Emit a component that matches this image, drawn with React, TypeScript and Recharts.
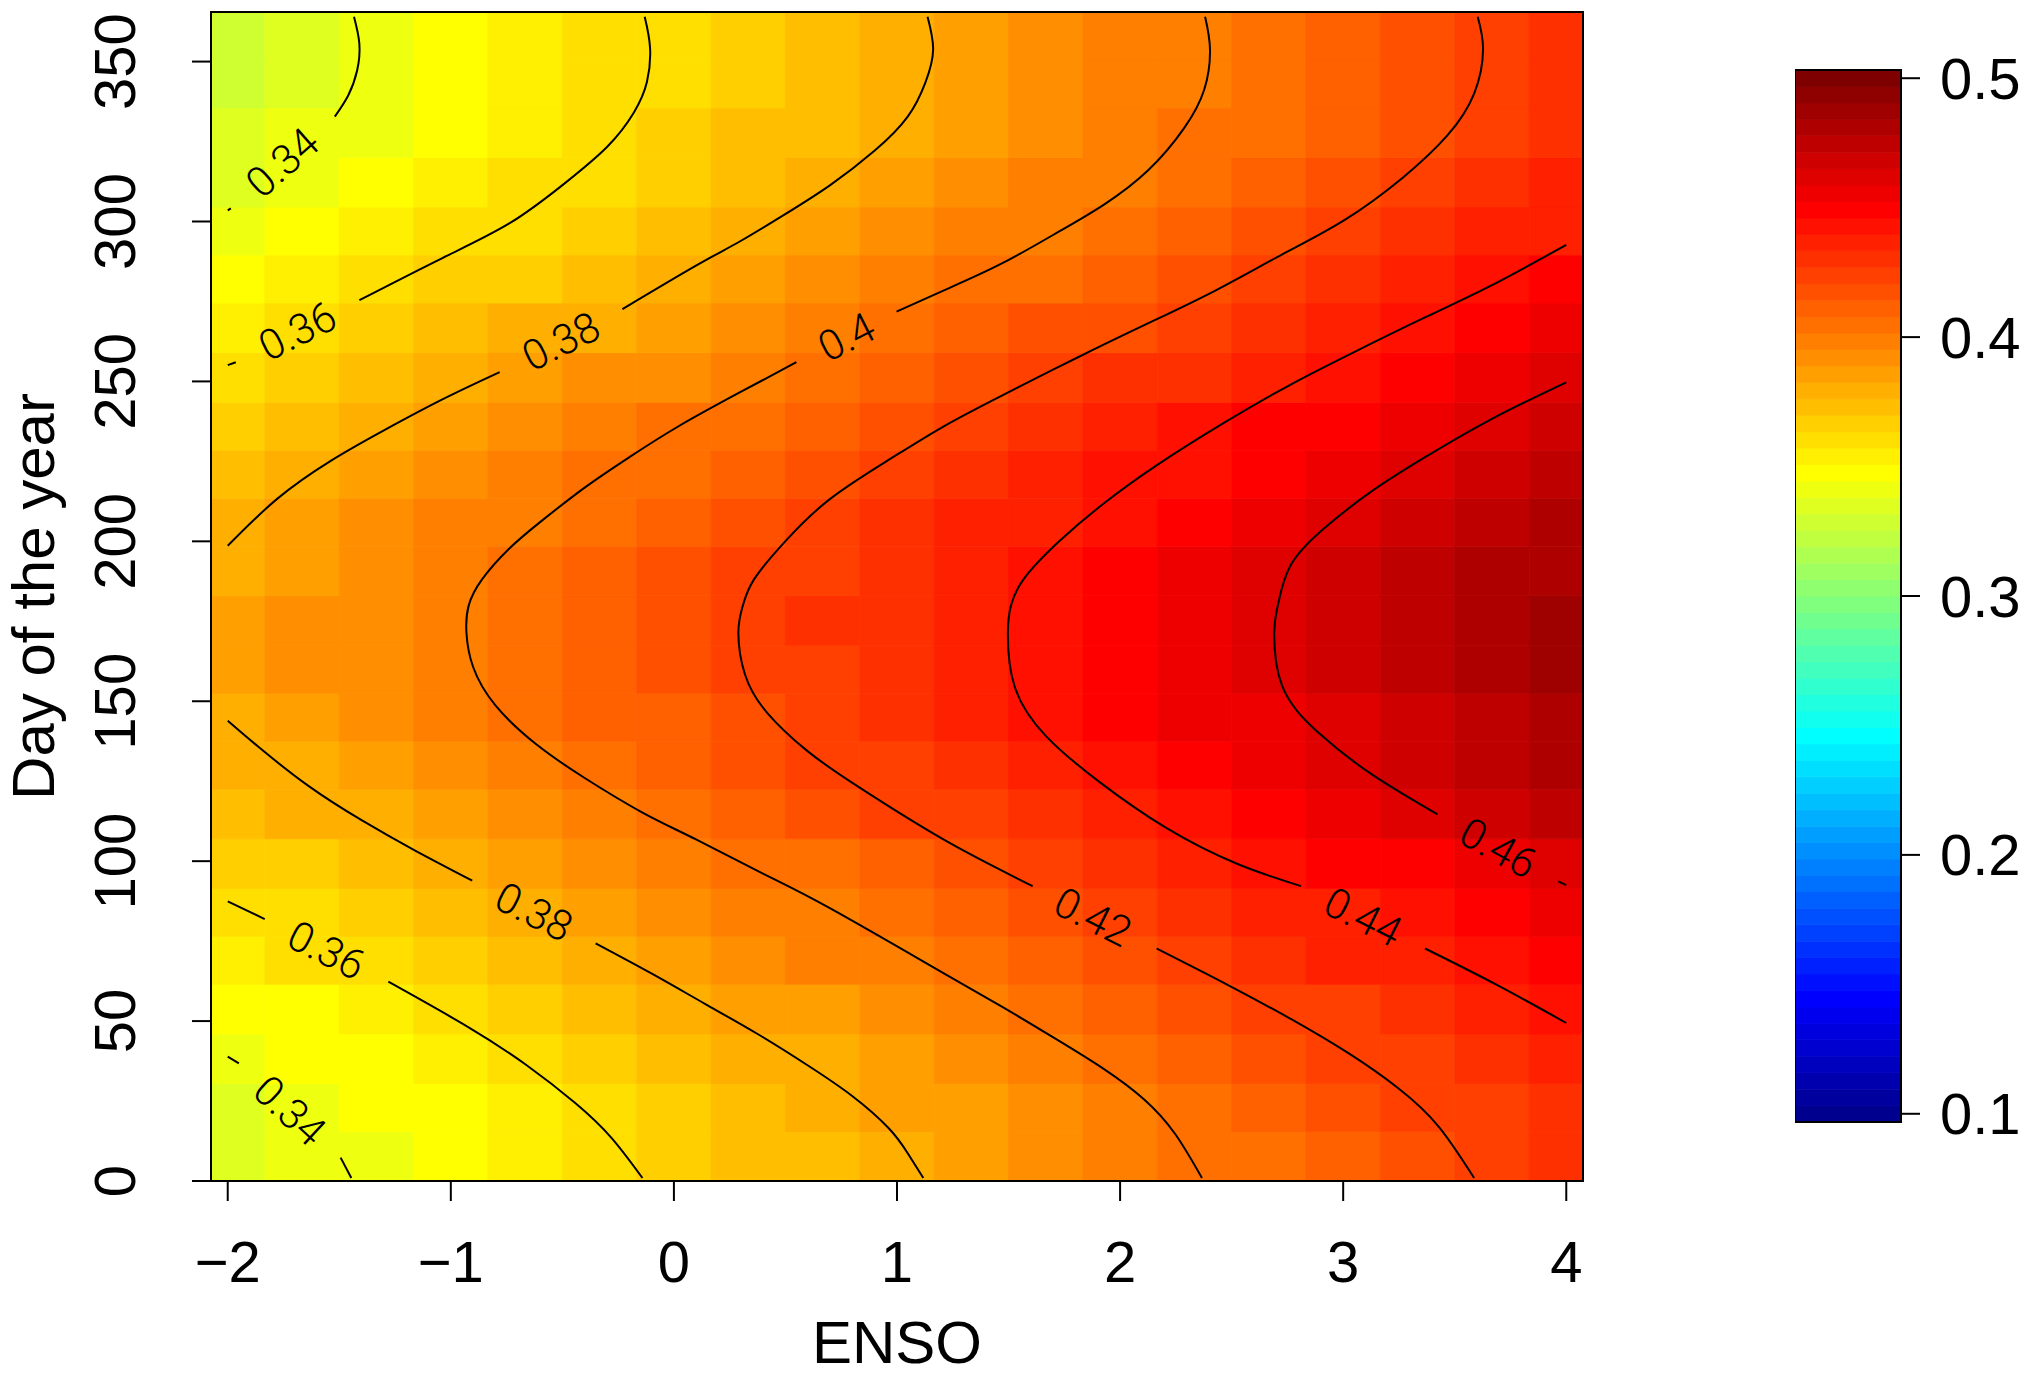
import { ComposedChart, XAxis, YAxis, Scatter, ReferenceArea, Label } from "recharts";

// column centres (ENSO) and row centres (day of the year) of the risk surface
const ensoCentres = [
  -2, -1.667, -1.333, -1, -0.667, -0.333, 0, 0.333, 0.667, 1, 1.333, 1.667, 2,
  2.333, 2.667, 3, 3.333, 3.667, 4,
];
const dayCentres = [
  8, 23, 38, 54, 69, 84, 99, 115, 130, 145, 160, 175, 191, 206, 221, 236, 251,
  267, 282, 297, 312, 328, 343, 358,
];

// one row per day centre, one value per ENSO centre
const riskRows = [
  [0.333, 0.338, 0.343, 0.348, 0.353, 0.358, 0.363, 0.369, 0.374, 0.379, 0.384, 0.39, 0.395, 0.4, 0.406, 0.411, 0.417, 0.422, 0.428],
  [0.335, 0.34, 0.345, 0.35, 0.356, 0.361, 0.366, 0.371, 0.377, 0.382, 0.387, 0.392, 0.398, 0.403, 0.409, 0.414, 0.419, 0.425, 0.43],
  [0.339, 0.345, 0.35, 0.355, 0.36, 0.365, 0.37, 0.376, 0.381, 0.386, 0.392, 0.397, 0.402, 0.408, 0.413, 0.419, 0.424, 0.43, 0.435],
  [0.345, 0.35, 0.356, 0.361, 0.366, 0.371, 0.377, 0.382, 0.387, 0.392, 0.398, 0.403, 0.409, 0.414, 0.42, 0.425, 0.431, 0.436, 0.442],
  [0.352, 0.357, 0.362, 0.367, 0.372, 0.378, 0.383, 0.388, 0.394, 0.399, 0.404, 0.41, 0.415, 0.421, 0.426, 0.432, 0.437, 0.443, 0.448],
  [0.357, 0.362, 0.367, 0.372, 0.378, 0.383, 0.388, 0.394, 0.399, 0.404, 0.41, 0.415, 0.421, 0.426, 0.432, 0.437, 0.443, 0.448, 0.454],
  [0.363, 0.368, 0.374, 0.379, 0.384, 0.39, 0.395, 0.4, 0.406, 0.411, 0.417, 0.422, 0.428, 0.433, 0.439, 0.444, 0.45, 0.455, 0.461],
  [0.37, 0.376, 0.381, 0.386, 0.392, 0.397, 0.402, 0.408, 0.413, 0.419, 0.424, 0.429, 0.435, 0.441, 0.446, 0.452, 0.457, 0.463, 0.469],
  [0.376, 0.381, 0.386, 0.392, 0.397, 0.402, 0.408, 0.413, 0.419, 0.424, 0.43, 0.435, 0.441, 0.446, 0.452, 0.458, 0.463, 0.469, 0.475],
  [0.38, 0.385, 0.391, 0.396, 0.401, 0.407, 0.412, 0.418, 0.423, 0.428, 0.434, 0.44, 0.445, 0.451, 0.456, 0.462, 0.468, 0.473, 0.479],
  [0.382, 0.388, 0.393, 0.398, 0.404, 0.409, 0.415, 0.42, 0.425, 0.431, 0.437, 0.442, 0.448, 0.453, 0.459, 0.465, 0.47, 0.476, 0.482],
  [0.383, 0.388, 0.393, 0.399, 0.404, 0.41, 0.415, 0.42, 0.426, 0.431, 0.437, 0.443, 0.448, 0.454, 0.459, 0.465, 0.471, 0.476, 0.482],
  [0.381, 0.386, 0.392, 0.397, 0.403, 0.408, 0.413, 0.419, 0.424, 0.43, 0.435, 0.441, 0.446, 0.452, 0.458, 0.463, 0.469, 0.475, 0.48],
  [0.378, 0.383, 0.388, 0.394, 0.399, 0.404, 0.41, 0.415, 0.421, 0.426, 0.432, 0.437, 0.443, 0.448, 0.454, 0.46, 0.465, 0.471, 0.477],
  [0.373, 0.378, 0.384, 0.389, 0.394, 0.4, 0.405, 0.41, 0.416, 0.421, 0.427, 0.432, 0.438, 0.443, 0.449, 0.455, 0.46, 0.466, 0.472],
  [0.368, 0.373, 0.378, 0.384, 0.389, 0.394, 0.4, 0.405, 0.411, 0.416, 0.421, 0.427, 0.432, 0.438, 0.444, 0.449, 0.455, 0.46, 0.466],
  [0.362, 0.367, 0.372, 0.378, 0.383, 0.388, 0.393, 0.399, 0.404, 0.41, 0.415, 0.42, 0.426, 0.431, 0.437, 0.443, 0.448, 0.454, 0.459],
  [0.355, 0.36, 0.365, 0.37, 0.376, 0.381, 0.386, 0.391, 0.397, 0.402, 0.408, 0.413, 0.418, 0.424, 0.429, 0.435, 0.44, 0.446, 0.452],
  [0.348, 0.353, 0.358, 0.363, 0.368, 0.374, 0.379, 0.384, 0.39, 0.395, 0.4, 0.406, 0.411, 0.416, 0.422, 0.427, 0.433, 0.438, 0.444],
  [0.341, 0.346, 0.352, 0.357, 0.362, 0.367, 0.372, 0.378, 0.383, 0.388, 0.394, 0.399, 0.404, 0.41, 0.415, 0.421, 0.426, 0.432, 0.437],
  [0.336, 0.342, 0.347, 0.352, 0.357, 0.362, 0.367, 0.373, 0.378, 0.383, 0.389, 0.394, 0.399, 0.405, 0.41, 0.415, 0.421, 0.426, 0.432],
  [0.333, 0.338, 0.343, 0.348, 0.353, 0.359, 0.364, 0.369, 0.374, 0.38, 0.385, 0.39, 0.396, 0.401, 0.406, 0.412, 0.417, 0.423, 0.428],
  [0.331, 0.336, 0.342, 0.347, 0.352, 0.357, 0.362, 0.367, 0.373, 0.378, 0.383, 0.389, 0.394, 0.399, 0.405, 0.41, 0.416, 0.421, 0.426],
  [0.331, 0.336, 0.341, 0.346, 0.352, 0.357, 0.362, 0.367, 0.372, 0.378, 0.383, 0.388, 0.394, 0.399, 0.404, 0.41, 0.415, 0.421, 0.426],
];

// contour lines as [ENSO, day] points, one list per piece between label gaps
const contour034 = [
  [[-1.434, 364], [-1.41, 355.6], [-1.42, 347.2], [-1.46, 339.4], [-1.52, 332.8]],
  [[-1.986, 304.1], [-2, 303.5]],
  [[-2, 38.9], [-1.95, 36.8]],
  [[-1.494, 7.3], [-1.446, 0.94]],
];
const contour036 = [
  [[-0.131, 364], [-0.107, 354.4], [-0.121, 343.6], [-0.18, 334], [-0.3, 323.3], [-0.501, 311.3], [-0.74, 299.3], [-1.04, 288.5], [-1.41, 275.4]],
  [[-1.964, 256], [-2, 255.1]],
  [[-2, 87.4], [-1.834, 81.9]],
  [[-1.28, 62.3], [-0.924, 48.2], [-0.66, 36.2], [-0.441, 24.3], [-0.28, 13.5], [-0.141, 0.94]],
];
const contour038 = [
  [[1.137, 364], [1.162, 353.8], [1.128, 343.6], [1.048, 332.8], [0.899, 322.1], [0.699, 311.3], [0.499, 302.3], [0.299, 293.9], [0.099, 286.2], [-0.231, 272.6]],
  [[-0.781, 252.9], [-1.04, 244.3], [-1.3, 234.7], [-1.54, 225.1], [-1.78, 213.2], [-2, 198.6]],
  [[-2, 143.9], [-1.86, 135.6], [-1.64, 123.6], [-1.4, 112.8], [-1.16, 103.3], [-0.904, 93.9]],
  [[-0.351, 74.3], [-0.101, 64.9], [0.139, 55.4], [0.379, 45.8], [0.599, 36.2], [0.799, 26.6], [0.963, 16.5], [1.048, 8.7], [1.118, 0.94]],
];
const contour040 = [
  [[2.381, 364], [2.403, 353.8], [2.377, 341.2], [2.287, 329.2], [2.127, 316.1], [1.928, 305.3], [1.727, 296.9], [1.468, 286.8], [1.208, 278.4], [0.998, 271.8]],
  [[0.549, 256], [0.299, 246.7], [0.019, 235.9], [-0.2, 226.3], [-0.4, 216.8], [-0.6, 206], [-0.74, 197.6], [-0.86, 188.1], [-0.92, 179.9], [-0.93, 171.5], [-0.9, 160.7], [-0.8, 148.7], [-0.62, 136.7], [-0.4, 126], [-0.141, 115.2], [0.099, 106.8], [0.399, 96.1], [0.699, 85.3], [1.208, 65], [1.468, 54.6], [1.708, 44.6], [1.928, 35], [2.108, 25.5], [2.247, 14.7], [2.367, 0.94]],
];
const contour042 = [
  [[3.603, 364], [3.627, 353.8], [3.587, 340], [3.467, 326.9], [3.267, 313.7], [3.007, 300.5], [2.727, 289.7], [2.427, 278.4], [2.127, 268.2], [1.807, 257.4], [1.468, 245.5], [1.208, 235.9], [0.968, 225.7], [0.699, 213.2], [0.499, 200], [0.359, 188.1], [0.309, 179.9], [0.289, 171.5], [0.319, 158.3], [0.419, 146.3], [0.599, 134.4], [0.819, 123.6], [1.208, 106.8], [1.608, 92.2]],
  [[2.164, 72.7], [2.467, 61.9], [2.767, 50.6], [3.027, 39.8], [3.247, 29], [3.427, 17.1], [3.587, 0.94]],
];
const contour044 = [
  [[4, 292.7], [3.667, 280.1], [3.367, 270], [3.067, 259.8], [2.767, 249.1], [2.467, 237.1], [2.167, 223.9], [1.928, 211.9], [1.727, 200], [1.567, 188.1], [1.511, 179.9], [1.497, 171.5], [1.527, 154.7], [1.668, 139.1], [1.907, 124.8], [2.207, 110.4], [2.527, 99.1], [2.811, 92.2]],
  [[3.367, 72.7], [3.687, 61.4], [4, 49.4]],
];
const contour046 = [
  [[4, 249.7], [3.667, 238.3], [3.367, 226.3], [3.127, 215.6], [2.927, 204.8], [2.767, 192.8], [2.707, 179.9], [2.691, 171.5], [2.727, 154.7], [2.887, 140.3], [3.127, 127.2], [3.423, 114.6]],
  [[3.964, 93.7], [4, 92.5]],
];

// contour labels: position (ENSO, day) and text angle in degrees
const contourLabels = [
  { x: -1.755, y: 318.4, text: "0.34", angle: -41.5 },
  { x: -1.687, y: 265.7, text: "0.36", angle: -26.6 },
  { x: -0.506, y: 262.5, text: "0.38", angle: -26.6 },
  { x: 0.774, y: 263.9, text: "0.4", angle: -26.8 },
  { x: -1.557, y: 72.1, text: "0.36", angle: 26.9 },
  { x: -0.627, y: 84.1, text: "0.38", angle: 26.9 },
  { x: -1.722, y: 22.0, text: "0.34", angle: 42.9 },
  { x: 1.878, y: 82.5, text: "0.42", angle: 26.7 },
  { x: 3.089, y: 82.5, text: "0.44", angle: 26.7 },
  { x: 3.695, y: 104.1, text: "0.46", angle: 28.9 },
];

const xTicks = [-2, -1, 0, 1, 2, 3, 4];
const yTicks = [0, 50, 100, 150, 200, 250, 300, 350];
const legendTicks = [0.1, 0.2, 0.3, 0.4, 0.5];

const X_DOMAIN = [-2.075, 4.075];
const Y_DOMAIN = [0, 365.5];
const Z_MIN = 0.1;
const Z_MAX = 0.5;
const N_COLOURS = 64;
const FONT = "'Liberation Sans', Arial, Helvetica, sans-serif";

// jet-like palette, dark blue -> cyan -> yellow -> dark red
function jet(i: number) {
  let r = 0, g = 0, b = 0;
  if (i < 8) b = 143 + 16 * i;
  else if (i < 24) { g = Math.round((255 * (i - 7)) / 16); b = 255; }
  else if (i < 40) { r = Math.round((255 * (i - 23)) / 16); g = 255; b = 255 - r; }
  else if (i < 56) { r = 255; g = 255 - Math.round((255 * (i - 39)) / 16); }
  else r = 255 - 16 * (i - 55);
  return `rgb(${r},${g},${b})`;
}
const palette = Array.from({ length: N_COLOURS }, (_, i) => jet(i));

function colourFor(v: number) {
  const i = Math.floor(((v - Z_MIN) / (Z_MAX - Z_MIN)) * N_COLOURS);
  return palette[Math.max(0, Math.min(N_COLOURS - 1, i))];
}

function edges(centres: number[], lo: number, hi: number) {
  const out = [lo];
  for (let i = 1; i < centres.length; i++) out.push((centres[i - 1] + centres[i]) / 2);
  out.push(hi);
  return out;
}

const xEdges = edges(ensoCentres, X_DOMAIN[0], X_DOMAIN[1]);
const yEdges = edges(dayCentres, Y_DOMAIN[0], Y_DOMAIN[1]);

const contourSets = [contour034, contour036, contour038, contour040, contour042, contour044, contour046];
const contourPieces = contourSets.flatMap((set) =>
  set.map((piece) => piece.map(([x, y]) => ({ x, y })))
);

const noDot = () => <g />;

function ContourLabel(props: any) {
  const { cx, cy, payload } = props;
  return (
    <text
      x={cx}
      y={cy}
      transform={`rotate(${payload.angle} ${cx} ${cy})`}
      textAnchor="middle"
      dominantBaseline="central"
      fontSize={42}
      fontWeight={300}
      fontFamily="Roboto, 'DejaVu Sans', sans-serif"
      fill="#000"
    >
      {payload.text}
    </text>
  );
}

function XTick(props: any) {
  const { x, y, payload } = props;
  const v = payload.value;
  return (
    <text x={x} y={y + 81} textAnchor="middle" fontSize={58} fontFamily={FONT} fill="#000">
      {v < 0 ? `\u2212${Math.abs(v)}` : `${v}`}
    </text>
  );
}

function YTick(props: any) {
  const { x, y, payload } = props;
  const bx = x - 57;
  return (
    <text
      x={bx}
      y={y}
      transform={`rotate(-90 ${bx} ${y})`}
      textAnchor="middle"
      fontSize={58}
      fontFamily={FONT}
      fill="#000"
    >
      {payload.value}
    </text>
  );
}

// legend bands: 64 colours centred on an even sequence from 0.1 to 0.5
const bandStep = (Z_MAX - Z_MIN) / (N_COLOURS - 1);
const barLo = Z_MIN - bandStep / 2;
const barHi = Z_MAX + bandStep / 2;

function MainChart() {
  return (
    <ComposedChart width={2028} height={1375} margin={{ top: 12, right: 445, bottom: 0, left: 0 }}>
      <XAxis
        type="number"
        dataKey="x"
        domain={X_DOMAIN}
        ticks={xTicks}
        interval={0}
        allowDataOverflow
        height={194}
        tickSize={20}
        tickMargin={0}
        axisLine={false}
        tickLine={{ stroke: "#000", strokeWidth: 2 }}
        tick={<XTick />}
      >
        <Label
          content={(p: any) => {
            const { x, y, width, height } = p.viewBox;
            return (
              <text x={x + width / 2} y={y + height - 12} textAnchor="middle" fontSize={60} fontFamily={FONT} fill="#000">
                ENSO
              </text>
            );
          }}
        />
      </XAxis>
      <YAxis
        type="number"
        dataKey="y"
        domain={Y_DOMAIN}
        ticks={yTicks}
        interval={0}
        allowDataOverflow
        width={211}
        tickSize={19}
        tickMargin={0}
        axisLine={false}
        tickLine={{ stroke: "#000", strokeWidth: 2 }}
        tick={<YTick />}
      >
        <Label
          content={(p: any) => {
            const { x, y, height } = p.viewBox;
            const bx = x + 54;
            const cy = y + height / 2;
            return (
              <text x={bx} y={cy} transform={`rotate(-90 ${bx} ${cy})`} textAnchor="middle" fontSize={60} fontFamily={FONT} fill="#000">
                Day of the year
              </text>
            );
          }}
        />
      </YAxis>

      {riskRows.map((row, r) =>
        row.map((v, c) => (
          <ReferenceArea
            key={`cell-${r}-${c}`}
            x1={xEdges[c]}
            x2={xEdges[c + 1]}
            y1={yEdges[r]}
            y2={yEdges[r + 1]}
            fill={colourFor(v)}
            fillOpacity={1}
            stroke={colourFor(v)}
            strokeWidth={0.8}
          />
        ))
      )}
      <ReferenceArea
        x1={X_DOMAIN[0]}
        x2={X_DOMAIN[1]}
        y1={Y_DOMAIN[0]}
        y2={Y_DOMAIN[1]}
        fill="none"
        fillOpacity={0}
        stroke="#000"
        strokeWidth={2}
      />

      {contourPieces.map((piece, i) => (
        <Scatter
          key={`contour-${i}`}
          data={piece}
          line={{ stroke: "#000", strokeWidth: 2 }}
          lineJointType="natural"
          shape={noDot}
          stroke="#000"
          fill="none"
          isAnimationActive={false}
        />
      ))}
      <Scatter data={contourLabels} shape={ContourLabel} isAnimationActive={false} />
    </ComposedChart>
  );
}

function LegendChart() {
  return (
    <ComposedChart width={233} height={1375} margin={{ top: 70, right: 0, bottom: 253, left: 0 }}>
      <XAxis type="number" dataKey="x" domain={[0, 1]} hide allowDataOverflow />
      <YAxis
        type="number"
        dataKey="y"
        orientation="right"
        domain={[barLo, barHi]}
        ticks={legendTicks}
        interval={0}
        allowDataOverflow
        width={127}
        tickSize={19}
        tickMargin={20}
        axisLine={false}
        tickLine={{ stroke: "#000", strokeWidth: 2 }}
        tick={{ fontSize: 58, fontFamily: FONT, fill: "#000" }}
      />
      {palette.map((c, i) => (
        <ReferenceArea
          key={`band-${i}`}
          x1={0}
          x2={1}
          y1={Z_MIN + (i - 0.5) * bandStep}
          y2={Z_MIN + (i + 0.5) * bandStep}
          fill={c}
          fillOpacity={1}
          stroke={c}
          strokeWidth={0.8}
        />
      ))}
      <ReferenceArea x1={0} x2={1} y1={barLo} y2={barHi} fill="none" fillOpacity={0} stroke="#000" strokeWidth={2} />
      <Scatter data={[{ x: 0.5, y: 0.3 }]} shape={noDot} isAnimationActive={false} />
    </ComposedChart>
  );
}

export default function App() {
  return (
    <div style={{ position: "absolute", left: 0, top: 0, width: 2028, height: 1375, background: "#fff" }}>
      <MainChart />
      <div style={{ position: "absolute", left: 1795, top: 0 }}>
        <LegendChart />
      </div>
    </div>
  );
}
